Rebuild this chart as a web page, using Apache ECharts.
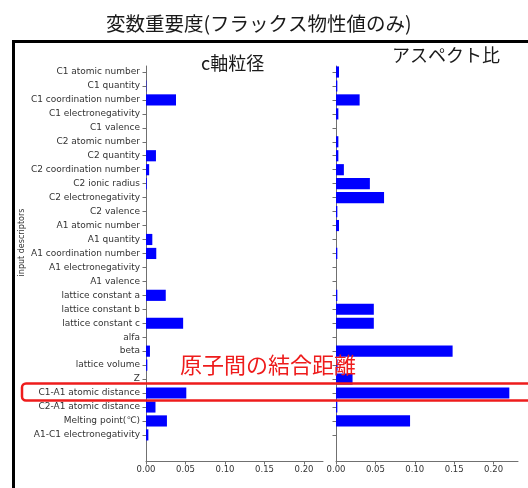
<!DOCTYPE html>
<html>
<head>
<meta charset="utf-8">
<script src="https://cdn.jsdelivr.net/npm/echarts@6/dist/echarts.min.js"></script>
<style>
  html, body { margin: 0; padding: 0; background: #ffffff; }
  #chart { width: 528px; height: 488px; }
</style>
</head>
<body>
<div id="chart"></div>
<script>
// Input descriptors, listed top to bottom
const descriptors = [
  'C1 atomic number', 'C1 quantity', 'C1 coordination number', 'C1 electronegativity',
  'C1 valence', 'C2 atomic number', 'C2 quantity', 'C2 coordination number',
  'C2 ionic radius', 'C2 electronegativity', 'C2 valence', 'A1 atomic number',
  'A1 quantity', 'A1 coordination number', 'A1 electronegativity', 'A1 valence',
  'lattice constant a', 'lattice constant b', 'lattice constant c', 'alfa', 'beta',
  'lattice volume', 'Z', 'C1-A1 atomic distance', 'C2-A1 atomic distance',
  'Melting point(℃)', 'A1-C1 electronegativity'
];

// Variable importance for the c-axis particle size model
const importanceCAxis = [
  0.0, 0.0005, 0.038, 0.0, 0.0, 0.0, 0.0126, 0.004, 0.001, 0.0, 0.0, 0.0,
  0.008, 0.013, 0.0, 0.0, 0.025, 0.0, 0.047, 0.0, 0.005, 0.0017, 0.0,
  0.051, 0.012, 0.0265, 0.003
];

// Variable importance for the aspect ratio model
const importanceAspect = [
  0.0038, 0.0017, 0.030, 0.003, 0.0, 0.003, 0.003, 0.010, 0.043, 0.061, 0.0017,
  0.0038, 0.0, 0.0017, 0.0, 0.0, 0.0017, 0.048, 0.048, 0.0, 0.148, 0.002,
  0.021, 0.220, 0.0017, 0.094, 0.0
];

const xTicks = [0, 0.05, 0.10, 0.15, 0.20];

const chart = echarts.init(document.getElementById('chart'), null, { renderer: 'canvas' });

const rowIdx = descriptors.map((_, i) => i);
const tickFont = 'DejaVu Sans';
const cjkFont = 'Noto Sans CJK JP';
const axisColor = '#707070';
const labelColor = '#333333';

function barsItem(params, api) {
  const v = api.value(0);
  const i = api.value(1);
  const p0 = api.coord([0, i]);
  const p1 = api.coord([v, i]);
  const h = Math.abs(api.size([0, 0.8])[1]);
  return {
    type: 'rect',
    shape: { x: p0[0], y: p0[1] - h / 2, width: p1[0] - p0[0], height: h },
    style: { fill: '#0000ff' }
  };
}

function xAxisFor(gridIndex, max) {
  return {
    type: 'value', gridIndex, min: 0, max, position: 'bottom',
    axisLine: { show: true, onZero: false, lineStyle: { color: axisColor, width: 1 } },
    axisTick: { show: true, length: 3.5, customValues: xTicks, lineStyle: { color: axisColor } },
    axisLabel: {
      customValues: xTicks, margin: 4, fontSize: 8.5, fontFamily: tickFont, color: labelColor,
      formatter: v => v.toFixed(2)
    },
    splitLine: { show: false }
  };
}

function yAxisFor(gridIndex, showLabels) {
  const ax = {
    type: 'value', gridIndex, inverse: true, min: -0.43, max: 27.87, position: 'left',
    axisLine: { show: true, onZero: false, lineStyle: { color: axisColor, width: 1 } },
    axisTick: { show: true, length: 3.5, customValues: rowIdx, lineStyle: { color: axisColor } },
    axisLabel: {
      show: showLabels, customValues: rowIdx, margin: 6, fontSize: 9,
      fontFamily: tickFont, color: labelColor,
      formatter: v => descriptors[Math.round(v)] || ''
    },
    splitLine: { show: false }
  };
  if (showLabels) {
    ax.name = 'input descriptors';
    ax.nameLocation = 'middle';
    ax.nameGap = 120;
    ax.nameTextStyle = { fontSize: 8, fontFamily: tickFont, color: labelColor, padding: [0, 0, 0, 42] };
  }
  return ax;
}

const option = {
  backgroundColor: '#ffffff',
  animation: false,
  title: [
    { text: '変数重要度(フラックス物性値のみ)', left: 101, top: 9,
      textStyle: { fontSize: 19.5, fontWeight: 'normal', color: '#1a1a1a', fontFamily: cjkFont } },
    { text: 'c軸粒径', left: 196, top: 49,
      textStyle: { fontSize: 18, fontWeight: 'normal', color: '#1a1a1a', fontFamily: cjkFont } },
    { text: 'アスペクト比', left: 387, top: 41,
      textStyle: { fontSize: 18, fontWeight: 'normal', color: '#1a1a1a', fontFamily: cjkFont } },
    { text: '原子間の結合距離', left: 175, top: 349, z: 20,
      textStyle: { fontSize: 22, fontWeight: 'normal', color: '#ee1c1c', fontFamily: cjkFont } }
  ],
  grid: [
    { left: 146, right: 205, top: 66, bottom: 27 },
    { left: 336, right: 10, top: 66, bottom: 27 }
  ],
  xAxis: [xAxisFor(0, 0.224), xAxisFor(1, 0.231)],
  yAxis: [yAxisFor(0, true), yAxisFor(1, false)],
  series: [
    { type: 'custom', xAxisIndex: 0, yAxisIndex: 0, renderItem: barsItem,
      encode: { x: 0, y: 1 }, data: importanceCAxis.map((v, i) => [v, i]) },
    { type: 'custom', xAxisIndex: 1, yAxisIndex: 1, renderItem: barsItem,
      encode: { x: 0, y: 1 }, data: importanceAspect.map((v, i) => [v, i]) }
  ],
  graphic: [
    // slide frame
    { type: 'line', shape: { x1: 13.5, y1: 40, x2: 13.5, y2: 490 },
      style: { stroke: '#000000', lineWidth: 3 }, z: 30 },
    { type: 'line', shape: { x1: 12, y1: 41.5, x2: 530, y2: 41.5 },
      style: { stroke: '#000000', lineWidth: 3 }, z: 30 },
    // highlight box around the C1-A1 distance row
    { type: 'rect', shape: { x: 22, y: 383.5, width: 530, height: 17, r: 4 },
      style: { fill: null, stroke: '#ee1c1c', lineWidth: 2.5 }, z: 30 }
  ]
};

chart.setOption(option);
</script>
</body>
</html>
